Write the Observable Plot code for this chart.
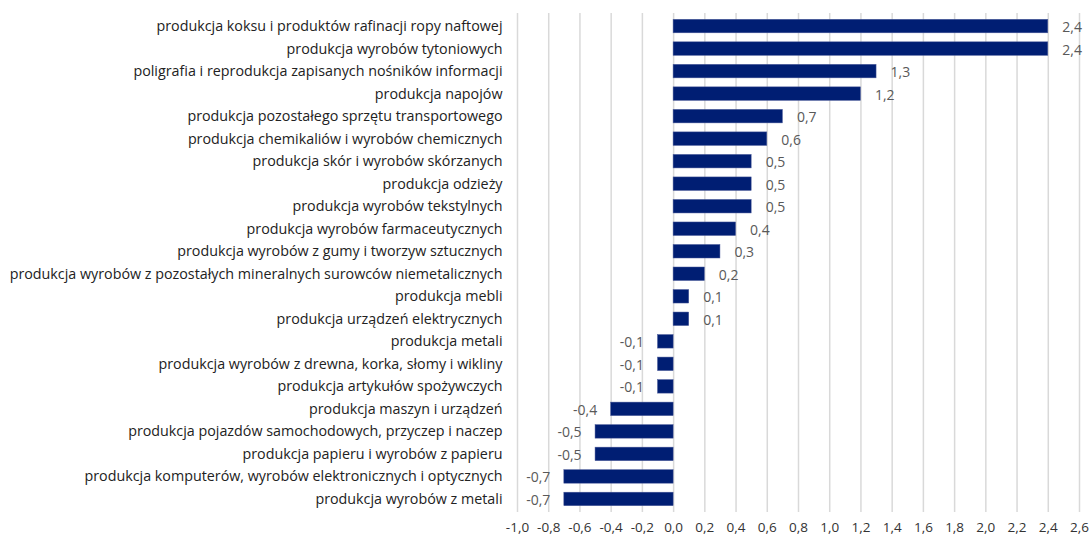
<!DOCTYPE html>
<html>
<head>
<meta charset="utf-8">
<script src="https://cdn.jsdelivr.net/npm/d3@7"></script>
<script src="https://cdn.jsdelivr.net/npm/@observablehq/plot@0.6"></script>
<style>
  html, body { margin: 0; padding: 0; background: #fff; }
  #chart svg { display: block; }
</style>
</head>
<body>
<div id="chart"></div>
<script>
const categories = [
  "produkcja koksu i produktów rafinacji ropy naftowej",
  "produkcja wyrobów tytoniowych",
  "poligrafia i reprodukcja zapisanych nośników informacji",
  "produkcja napojów",
  "produkcja pozostałego sprzętu transportowego",
  "produkcja chemikaliów i wyrobów chemicznych",
  "produkcja skór i wyrobów skórzanych",
  "produkcja odzieży",
  "produkcja wyrobów tekstylnych",
  "produkcja wyrobów farmaceutycznych",
  "produkcja wyrobów z gumy i tworzyw sztucznych",
  "produkcja wyrobów z pozostałych mineralnych surowców niemetalicznych",
  "produkcja mebli",
  "produkcja urządzeń elektrycznych",
  "produkcja metali",
  "produkcja wyrobów z drewna, korka, słomy i wikliny",
  "produkcja artykułów spożywczych",
  "produkcja maszyn i urządzeń",
  "produkcja pojazdów samochodowych, przyczep i naczep",
  "produkcja papieru i wyrobów z papieru",
  "produkcja komputerów, wyrobów elektronicznych i optycznych",
  "produkcja wyrobów z metali"
];
const values = [2.4, 2.4, 1.3, 1.2, 0.7, 0.6, 0.5, 0.5, 0.5, 0.4, 0.3, 0.2, 0.1, 0.1,
  -0.1, -0.1, -0.1, -0.4, -0.5, -0.5, -0.7, -0.7];
const xTicks = [-1.0, -0.8, -0.6, -0.4, -0.2, 0.0, 0.2, 0.4, 0.6, 0.8, 1.0, 1.2, 1.4, 1.6, 1.8, 2.0, 2.2, 2.4, 2.6];

const data = categories.map((c, i) => ({category: c, value: values[i]}));
const fmt = v => v.toFixed(1).replace(".", ",");

const chart = Plot.plot({
  width: 1089,
  height: 541,
  marginLeft: 517,
  marginRight: 10,
  marginTop: 13,
  marginBottom: 29,
  style: {fontFamily: "'Open Sans', sans-serif", fontSize: "14px", background: "#fff"},
  x: {domain: [-1, 2.6], label: null},
  y: {domain: categories, paddingInner: 0.4, paddingOuter: 0.28, round: false, label: null},
  marks: [
    Plot.ruleX(xTicks, {stroke: "#d9d9d9", strokeWidth: 1.5}),
    Plot.barX(data, {x: "value", y: "category", fill: "#001e73", stroke: "#4a5a9a", strokeWidth: 0.5}),
    Plot.text(data.filter(d => d.value >= 0), {x: "value", y: "category", text: d => fmt(d.value), textAnchor: "start", dx: 14, dy: 1, fill: "#595959", fontSize: 14}),
    Plot.text(data.filter(d => d.value < 0), {x: "value", y: "category", text: d => fmt(d.value), textAnchor: "end", dx: -14, dy: 1, fill: "#595959", fontSize: 14}),
    Plot.axisX({ticks: xTicks, tickFormat: fmt, tickSize: 0, tickPadding: 10, fill: "#333", fontSize: 13.5}),
    Plot.axisY({tickSize: 0, tickPadding: 15, fill: "#222", fontSize: 14.3})
  ]
});
document.getElementById("chart").appendChild(chart);
</script>
</body>
</html>
